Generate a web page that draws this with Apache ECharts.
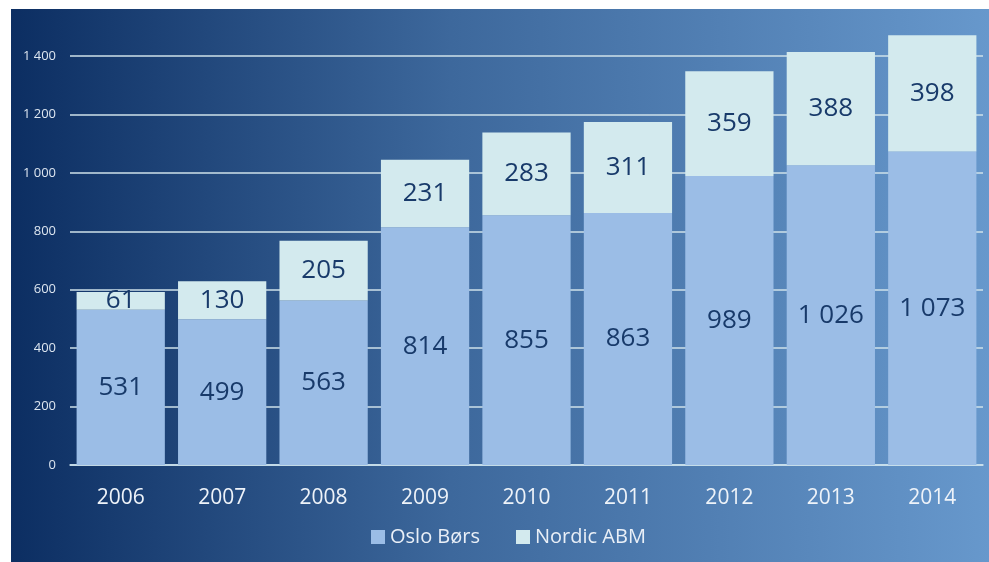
<!DOCTYPE html>
<html>
<head>
<meta charset="utf-8">
<script src="https://cdn.jsdelivr.net/npm/echarts@6/dist/echarts.min.js"></script>
<style>html,body{margin:0;padding:0;background:#fff}#c{width:989px;height:562px}</style>
</head>
<body>
<div id="c"></div>
<script>
var years = ['2006','2007','2008','2009','2010','2011','2012','2013','2014'];
var osloBors = [531, 499, 563, 814, 855, 863, 989, 1026, 1073];
var nordicABM = [61, 130, 205, 231, 283, 311, 359, 388, 398];
var yTicks = [0, 200, 400, 600, 800, 1000, 1200, 1400];

function fmt(v){ return String(v).replace(/\B(?=(\d{3})+(?!\d))/g, ' '); }

var chart = echarts.init(document.getElementById('c'), null, {renderer:'canvas'});
var font = "'Open Sans', 'Noto Sans', sans-serif";
chart.setOption({
  backgroundColor: '#ffffff',
  animation: false,
  graphic: [{
    type: 'rect', z: -10, silent: true,
    shape: {x: 11, y: 9, width: 978, height: 553},
    style: {fill: new echarts.graphic.LinearGradient(0,0,1,0,[
      {offset:0, color:'#0c2e62'},
      {offset:0.45, color:'#3d689c'},
      {offset:1, color:'#6798cc'}
    ])}
  }],
  grid: {left: 70, right: 6, top: 56, bottom: 97, containLabel: false},
  legend: {
    bottom: 10, left: 366,
    itemWidth: 14, itemHeight: 14, itemGap: 36,
    icon: 'rect',
    textStyle: {color: '#e9eff7', fontSize: 20, fontFamily: font},
    data: ['Oslo Børs', 'Nordic ABM']
  },
  xAxis: {
    type: 'category', data: years,
    axisLine: {lineStyle: {color: '#cde3ee', width: 1.5}},
    axisTick: {show: false},
    axisLabel: {color: '#eef3f9', fontSize: 21, margin: 23, fontFamily: font}
  },
  yAxis: {
    type: 'value', min: 0, max: yTicks[yTicks.length-1], interval: 200,
    axisLine: {show: false}, axisTick: {show: false},
    axisLabel: {color: '#dde6f0', fontSize: 13, margin: 14, fontFamily: font, formatter: fmt},
    splitLine: {lineStyle: {color: '#cfe2ea', width: 1.5}}
  },
  series: [{
    name: 'Oslo Børs', type: 'bar', stack: 'a', data: osloBors, clip: false,
    barCategoryGap: '13%',
    itemStyle: {color: '#9bbde6'},
    label: {show: true, position: 'inside', color: '#183a6a', fontSize: 26, fontFamily: font, formatter: function(p){return fmt(p.value);}}
  },{
    name: 'Nordic ABM', type: 'bar', stack: 'a', data: nordicABM, clip: false,
    barCategoryGap: '13%',
    itemStyle: {color: '#d3eaee'},
    label: {show: true, position: 'inside', color: '#183a6a', fontSize: 26, fontFamily: font, formatter: function(p){return fmt(p.value);}}
  }]
});
</script>
</body>
</html>
